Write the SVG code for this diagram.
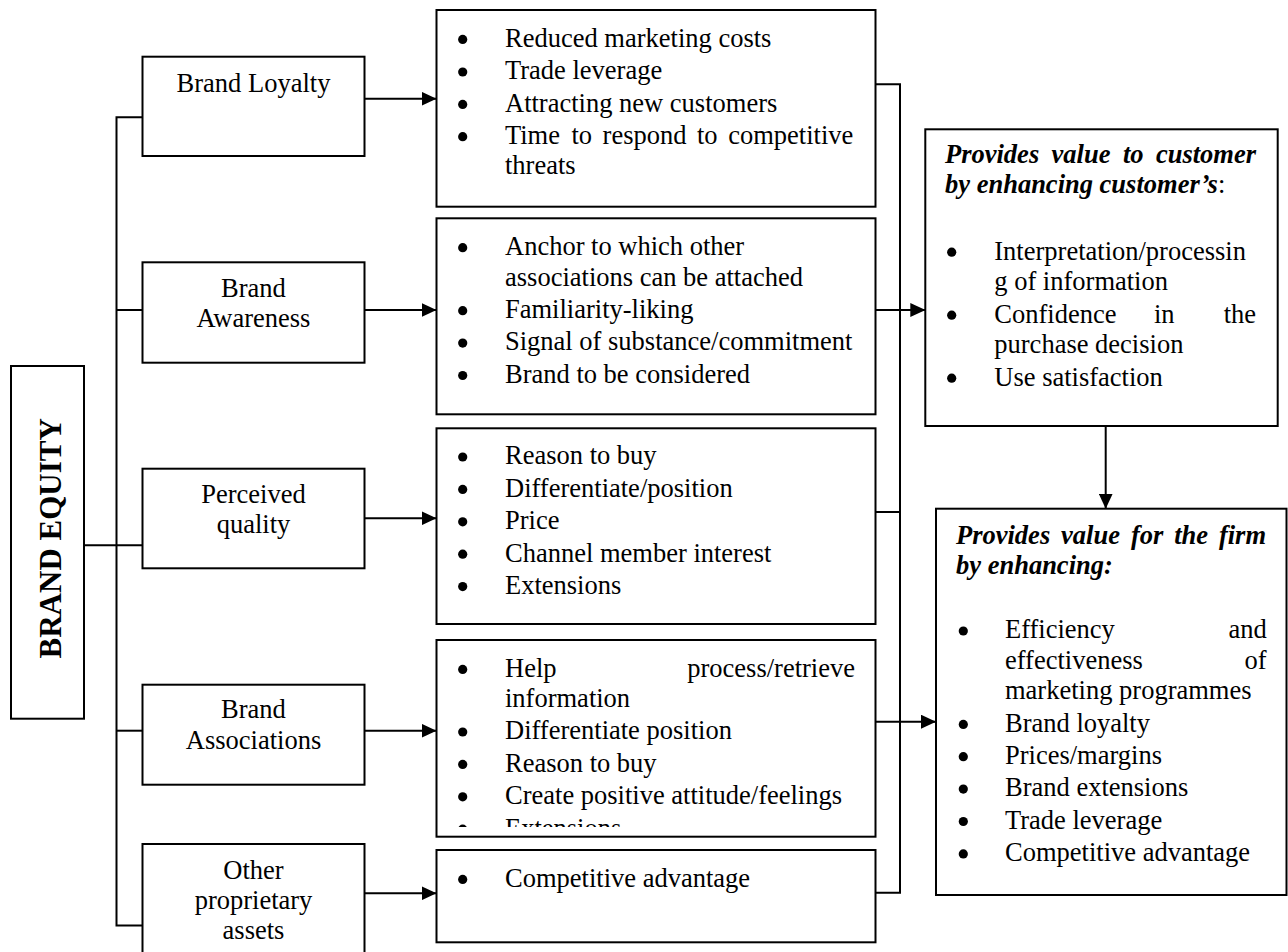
<svg xmlns="http://www.w3.org/2000/svg" width="1288" height="952" viewBox="0 0 1288 952">
  <style>
    .box { fill: #fff; stroke: #000; stroke-width: 2; }
    .t { font-family: "Liberation Serif", "Times New Roman", serif; font-size: 26.5px; fill: #000; }
    .bi { font-weight: bold; font-style: italic; }
    .c { text-anchor: middle; }
    .e { text-anchor: end; }
    .title { font-size: 31px; font-weight: bold; text-anchor: middle; }
    .ln { fill: none; stroke: #000; stroke-width: 2; }
    .dot { fill: #000; }
  </style>
  <defs>
    <marker id="arrow" viewBox="0 0 15 14" refX="15" refY="7" markerWidth="15" markerHeight="14" markerUnits="userSpaceOnUse" orient="auto">
      <path d="M0,0 L15,7 L0,14 Z" fill="#000"/>
    </marker>
    <clipPath id="assocClip">
      <rect x="437" y="641" width="438" height="186"/>
    </clipPath>
  </defs>

  <!-- root -->
  <g id="brand-equity">
    <rect class="box" x="11" y="366" width="73" height="352.7"/>
    <text class="t title" transform="translate(60.5,538.3) rotate(-90)">BRAND EQUITY</text>
  </g>

  <!-- dimension labels -->
  <g id="brand-loyalty">
    <rect class="box" x="142.5" y="56.7" width="222" height="99.3"/>
    <text class="t c" x="253.5" y="92.3">Brand Loyalty</text>
  </g>
  <g id="brand-awareness">
    <rect class="box" x="142.5" y="262.3" width="222" height="100.4"/>
    <text class="t c" x="253.5" y="296.7">Brand</text>
    <text class="t c" x="253.5" y="327">Awareness</text>
  </g>
  <g id="perceived-quality">
    <rect class="box" x="142.5" y="468.7" width="222" height="99.6"/>
    <text class="t c" x="253.5" y="502.7">Perceived</text>
    <text class="t c" x="253.5" y="532.5">quality</text>
  </g>
  <g id="brand-associations">
    <rect class="box" x="142.5" y="684.7" width="222" height="100"/>
    <text class="t c" x="253.5" y="718.3">Brand</text>
    <text class="t c" x="253.5" y="749.3">Associations</text>
  </g>
  <g id="other-assets">
    <rect class="box" x="142.5" y="844" width="222" height="130"/>
    <text class="t c" x="253.5" y="879">Other</text>
    <text class="t c" x="253.5" y="909">proprietary</text>
    <text class="t c" x="253.5" y="939">assets</text>
  </g>

  <!-- benefit lists -->
  <g id="loyalty-benefits">
    <rect class="box" x="436.5" y="10" width="439" height="196.7"/>
    <circle class="dot" cx="462.7" cy="39.4" r="4.6"/>
    <circle class="dot" cx="462.7" cy="72" r="4.6"/>
    <circle class="dot" cx="462.7" cy="104.4" r="4.6"/>
    <circle class="dot" cx="462.7" cy="136.7" r="4.6"/>
    <text class="t" x="505" y="46.7">Reduced marketing costs</text>
    <text class="t" x="505" y="79.3">Trade leverage</text>
    <text class="t" x="505" y="111.7">Attracting new customers</text>
    <text class="t" y="144"><tspan x="505">Time</tspan><tspan x="571.5">to</tspan><tspan x="602.6">respond</tspan><tspan x="697">to</tspan></text>
    <text class="t e" x="853.3" y="144">competitive</text>
    <text class="t" x="505" y="174">threats</text>
  </g>
  <g id="awareness-benefits">
    <rect class="box" x="436.5" y="218.3" width="439" height="196"/>
    <circle class="dot" cx="462.7" cy="247.7" r="4.6"/>
    <circle class="dot" cx="462.7" cy="310.7" r="4.6"/>
    <circle class="dot" cx="462.7" cy="343.1" r="4.6"/>
    <circle class="dot" cx="462.7" cy="375.5" r="4.6"/>
    <text class="t" x="505" y="255">Anchor to which other</text>
    <text class="t" x="505" y="285.5">associations can be attached</text>
    <text class="t" x="505" y="318">Familiarity-liking</text>
    <text class="t" x="505" y="350.4">Signal of substance/commitment</text>
    <text class="t" x="505" y="382.8">Brand to be considered</text>
  </g>
  <g id="quality-benefits">
    <rect class="box" x="436.5" y="428.3" width="439" height="195.7"/>
    <circle class="dot" cx="462.7" cy="457" r="4.6"/>
    <circle class="dot" cx="462.7" cy="489.4" r="4.6"/>
    <circle class="dot" cx="462.7" cy="521.8" r="4.6"/>
    <circle class="dot" cx="462.7" cy="554.2" r="4.6"/>
    <circle class="dot" cx="462.7" cy="586.6" r="4.6"/>
    <text class="t" x="505" y="464.3">Reason to buy</text>
    <text class="t" x="505" y="496.7">Differentiate/position</text>
    <text class="t" x="505" y="529.1">Price</text>
    <text class="t" x="505" y="561.5">Channel member interest</text>
    <text class="t" x="505" y="593.9">Extensions</text>
  </g>
  <g id="associations-benefits">
    <rect class="box" x="436.5" y="640" width="439" height="196.7"/>
    <g clip-path="url(#assocClip)">
      <circle class="dot" cx="462.7" cy="669.4" r="4.6"/>
      <circle class="dot" cx="462.7" cy="732" r="4.6"/>
      <circle class="dot" cx="462.7" cy="764.4" r="4.6"/>
      <circle class="dot" cx="462.7" cy="796.8" r="4.6"/>
      <circle class="dot" cx="462.7" cy="829.2" r="4.6"/>
      <text class="t" x="505" y="676.7">Help</text>
      <text class="t e" x="855" y="676.7">process/retrieve</text>
      <text class="t" x="505" y="706.9">information</text>
      <text class="t" x="505" y="739.3">Differentiate position</text>
      <text class="t" x="505" y="771.7">Reason to buy</text>
      <text class="t" x="505" y="804.1">Create positive attitude/feelings</text>
      <text class="t" x="505" y="836.5">Extensions</text>
    </g>
  </g>
  <g id="other-benefits">
    <rect class="box" x="436.5" y="850" width="439" height="92.3"/>
    <circle class="dot" cx="462.7" cy="879.4" r="4.6"/>
    <text class="t" x="505" y="886.7">Competitive advantage</text>
  </g>

  <!-- value to customer -->
  <g id="customer-value">
    <rect class="box" x="925.3" y="129.3" width="352.4" height="296.7"/>
    <text class="t bi" y="162.5"><tspan x="945">Provides</tspan><tspan x="1051.6">value</tspan><tspan x="1122.9">to</tspan></text>
    <text class="t bi e" x="1256" y="162.5">customer</text>
    <text class="t" x="945" y="193.3"><tspan class="bi">by enhancing customer’s</tspan>:</text>
    <circle class="dot" cx="951.7" cy="252.2" r="4.6"/>
    <circle class="dot" cx="951.7" cy="315.2" r="4.6"/>
    <circle class="dot" cx="951.7" cy="378.2" r="4.6"/>
    <text class="t" x="994.3" y="259.5">Interpretation/processin</text>
    <text class="t" x="994.3" y="290">g of information</text>
    <text class="t" y="322.5"><tspan x="994.3">Confidence</tspan><tspan x="1154">in</tspan></text>
    <text class="t e" x="1256" y="322.5">the</text>
    <text class="t" x="994.3" y="353">purchase decision</text>
    <text class="t" x="994.3" y="385.5">Use satisfaction</text>
  </g>

  <!-- value to the firm -->
  <g id="firm-value">
    <rect class="box" x="936" y="508.7" width="350.5" height="386.3"/>
    <text class="t bi" y="544"><tspan x="956">Provides</tspan><tspan x="1061.1">value</tspan><tspan x="1130.9">for</tspan><tspan x="1174.2">the</tspan></text>
    <text class="t bi e" x="1266" y="544">firm</text>
    <text class="t bi" x="956" y="574">by enhancing:</text>
    <circle class="dot" cx="963.3" cy="631" r="4.6"/>
    <circle class="dot" cx="963.3" cy="724.4" r="4.6"/>
    <circle class="dot" cx="963.3" cy="756.7" r="4.6"/>
    <circle class="dot" cx="963.3" cy="789.1" r="4.6"/>
    <circle class="dot" cx="963.3" cy="821.5" r="4.6"/>
    <circle class="dot" cx="963.3" cy="853.9" r="4.6"/>
    <text class="t" x="1005" y="638.3">Efficiency</text>
    <text class="t e" x="1266.7" y="638.3">and</text>
    <text class="t" x="1005" y="668.8">effectiveness</text>
    <text class="t e" x="1266.7" y="668.8">of</text>
    <text class="t" x="1005" y="699.3">marketing programmes</text>
    <text class="t" x="1005" y="731.7">Brand loyalty</text>
    <text class="t" x="1005" y="764">Prices/margins</text>
    <text class="t" x="1005" y="796.4">Brand extensions</text>
    <text class="t" x="1005" y="828.8">Trade leverage</text>
    <text class="t" x="1005" y="861.2">Competitive advantage</text>
  </g>

  <!-- connectors -->
  <g id="connectors">
    <path class="ln" d="M142.5,117.3 H116.5 V925.5 H142.5"/>
    <path class="ln" d="M116.5,310 H142.5"/>
    <path class="ln" d="M85,545.3 H142.5"/>
    <path class="ln" d="M116.5,730.7 H142.5"/>

    <path class="ln" d="M364.5,98.7 H436.5" marker-end="url(#arrow)"/>
    <path class="ln" d="M364.5,310 H436.5" marker-end="url(#arrow)"/>
    <path class="ln" d="M364.5,518.3 H436.5" marker-end="url(#arrow)"/>
    <path class="ln" d="M364.5,730.7 H436.5" marker-end="url(#arrow)"/>
    <path class="ln" d="M364.5,893.3 H436.5" marker-end="url(#arrow)"/>

    <path class="ln" d="M875.5,84.3 H900 V892.7 H875.5"/>
    <path class="ln" d="M875.5,512 H900"/>
    <path class="ln" d="M875.5,310 H925.3" marker-end="url(#arrow)"/>
    <path class="ln" d="M875.5,721.7 H936" marker-end="url(#arrow)"/>

    <path class="ln" d="M1105.7,426 V508.7" marker-end="url(#arrow)"/>
  </g>
</svg>
